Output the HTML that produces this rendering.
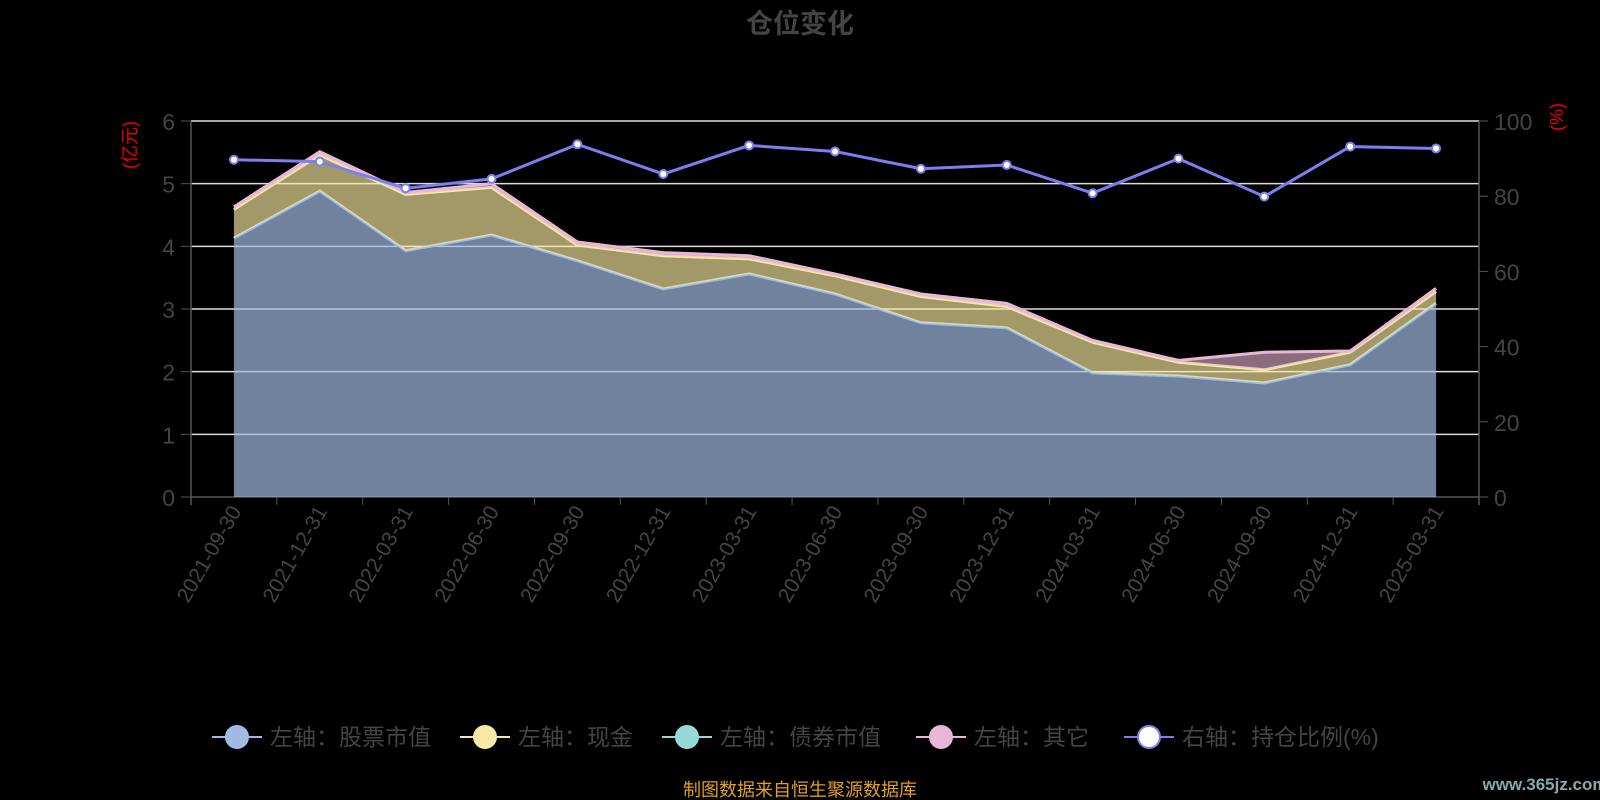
<!DOCTYPE html>
<html><head><meta charset="utf-8"><style>
html,body{margin:0;padding:0;background:#000;}
svg{display:block;font-family:"Liberation Sans","Noto Sans CJK SC",sans-serif;}
</style></head><body>
<svg id="c" width="1600" height="800" viewBox="0 0 1600 800">
<text x="800" y="33" text-anchor="middle" font-size="27" font-weight="bold" fill="#444">仓位变化</text>
<text transform="translate(136,145) rotate(-90)" text-anchor="middle" font-size="18" fill="#e00">(亿元)</text>
<text transform="translate(1563,117) rotate(-90)" text-anchor="middle" font-size="18" fill="#e00">(%)</text>
<g id="grid"></g><g id="areas"></g><g id="axes"></g><g id="ratio"></g>
<g id="legend"></g>
<text x="800" y="796" text-anchor="middle" font-size="18" fill="#e0a020">制图数据来自恒生聚源数据库</text>
<text x="1545" y="790" text-anchor="middle" font-size="17" font-weight="bold" fill="#8aa">www.365jz.com</text>
</svg>
<script>
const categories=["2021-09-30","2021-12-31","2022-03-31","2022-06-30","2022-09-30","2022-12-31","2023-03-31","2023-06-30","2023-09-30","2023-12-31","2024-03-31","2024-06-30","2024-09-30","2024-12-31","2025-03-31"];
const stockValues=[4.13,4.88,3.93,4.18,3.77,3.32,3.56,3.24,2.78,2.70,1.98,1.93,1.82,2.11,3.09];
const cashValues=[0.46,0.58,0.90,0.76,0.25,0.53,0.24,0.29,0.42,0.34,0.49,0.22,0.21,0.20,0.19];
const bondValues=[0,0,0,0,0,0,0,0,0,0,0,0,0,0,0];
const otherValues=[0.04,0.05,0.03,0.06,0.05,0.05,0.05,0.03,0.04,0.05,0.03,0.03,0.28,0.02,0.05];
const ratioValues=[89.7,89.2,82.1,84.6,93.8,85.9,93.5,91.9,87.3,88.3,80.8,90.0,79.9,93.2,92.7];
const leftTicks=[0,1,2,3,4,5,6];
const rightTicks=[0,20,40,60,80,100];
const NS="http://www.w3.org/2000/svg";
const X0=191,X1=1479,Y0=497,Y1=121;
const step=(X1-X0)/categories.length;
const xs=i=>X0+step*(i+0.5);
const yl=v=>Y0-(v/6)*(Y0-Y1);
const yr=v=>Y0-(v/100)*(Y0-Y1);
function mk(tag,attrs,parent){const e=document.createElementNS(NS,tag);for(const k in attrs)e.setAttribute(k,attrs[k]);document.getElementById(parent).appendChild(e);return e;}
leftTicks.forEach(t=>{
 const l=mk('line',{x1:X0,x2:X1,y1:yl(t),y2:yl(t),stroke:t===0?'#555':'#ddd','stroke-width':1.5},'grid');
 
 mk('line',{x1:X0-10,x2:X0,y1:yl(t),y2:yl(t),stroke:'#555'},'axes');
 const tx=mk('text',{x:X0-16,y:yl(t)+9,'text-anchor':'end','font-size':23,fill:'#444'},'axes');tx.textContent=t;
 
});
rightTicks.forEach(t=>{
 mk('line',{x1:X1,x2:X1+9,y1:yr(t),y2:yr(t),stroke:'#555'},'axes');
 const tx=mk('text',{x:X1+15,y:yr(t)+9,'font-size':23,fill:'#444'},'axes');tx.textContent=t;
 
});
mk('line',{x1:X0,x2:X0,y1:Y1,y2:Y0+8,stroke:'#555','stroke-width':1.5},'axes');
mk('line',{x1:X1,x2:X1,y1:Y1,y2:Y0+8,stroke:'#555','stroke-width':1.5},'axes');
for(let i=0;i<=categories.length;i++)mk('line',{x1:X0+step*i,x2:X0+step*i,y1:Y0,y2:Y0+8,stroke:'#555'},'axes');
categories.forEach((c,i)=>{
 const tx=mk('text',{transform:`translate(${xs(i)+8},${Y0+14}) rotate(-60)`,'text-anchor':'end','font-size':21,fill:'#444'},'axes');tx.textContent=c;
 
});
const series=[{v:stockValues,fill:'rgba(160,185,225,0.7)',line:'#9fbbe3',name:'stock-area'},
 {v:cashValues,fill:'rgba(250,235,160,0.65)',line:'#f7e9a6',name:'cash-area'},
 {v:bondValues,fill:'rgba(150,215,215,0.6)',line:'none',name:'bond-area'},
 {v:otherValues,fill:'rgba(230,180,210,0.6)',line:'#e8b6d6',name:'other-area'}];
let base=categories.map(()=>0);
series.forEach(s=>{
 const top=base.map((b,i)=>b+s.v[i]);
 let d='M'+top.map((v,i)=>xs(i)+','+yl(v)).join(' L');
 for(let i=categories.length-1;i>=0;i--)d+=' L'+xs(i)+','+yl(base[i]);
 const a=mk('path',{d:d+'Z',fill:s.fill},'areas');
 
 const l=mk('polyline',{points:top.map((v,i)=>xs(i)+','+yl(v)).join(' '),fill:'none',stroke:s.line,'stroke-width':3},'areas');
 
 base=top;
});
const rl=mk('polyline',{points:ratioValues.map((v,i)=>xs(i)+','+yr(v)).join(' '),fill:'none',stroke:'#7b7ff0','stroke-width':3},'ratio');

ratioValues.forEach((v,i)=>{
 const p=mk('circle',{cx:xs(i),cy:yr(v),r:4,fill:'#fff',stroke:'#7b7ff0','stroke-width':2},'ratio');
 
});
const legend=[["左轴：股票市值","#9fbbe3","#9fbbe3",212],["左轴：现金","#f7e9a6","#f7e9a6",460],["左轴：债券市值","#98d8d8","#98d8d8",662],["左轴：其它","#e8b6d6","#e8b6d6",916],["右轴：持仓比例(%)","#fff","#7b7ff0",1124]];
legend.forEach(([t,f,s,x])=>{
 const g=mk('g',{},'legend');
 const ln=document.createElementNS(NS,'line');[['x1',x],['x2',x+50],['y1',737],['y2',737],['stroke',s],['stroke-width',2]].forEach(a=>ln.setAttribute(a[0],a[1]));g.appendChild(ln);
 const c=document.createElementNS(NS,'circle');[['cx',x+25],['cy',737],['r',11],['fill',f],['stroke',s],['stroke-width',2]].forEach(a=>c.setAttribute(a[0],a[1]));g.appendChild(c);
 const tx=document.createElementNS(NS,'text');[['x',x+58],['y',745],['font-size',23],['fill','#444']].forEach(a=>tx.setAttribute(a[0],a[1]));tx.textContent=t;g.appendChild(tx);
});
</script>
</body></html>
